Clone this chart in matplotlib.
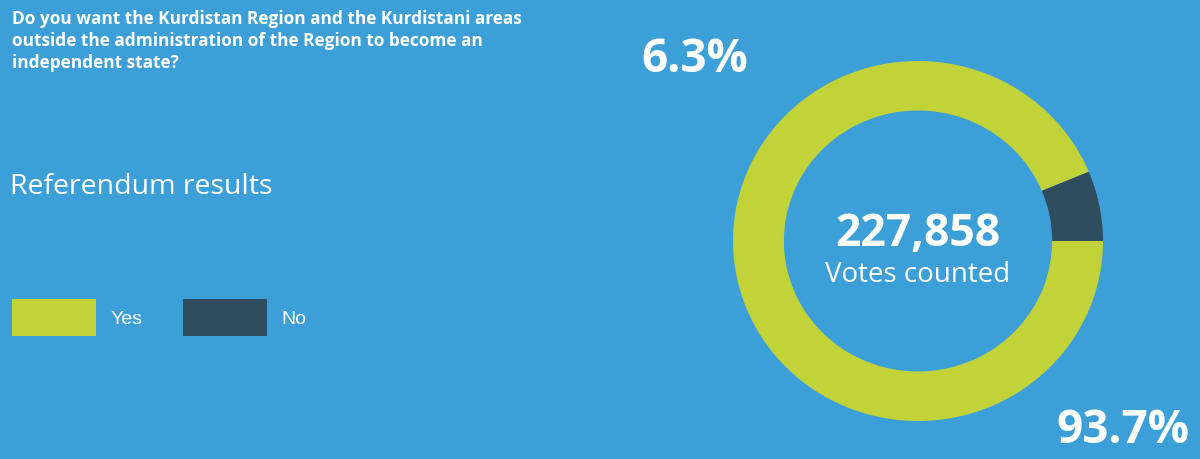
import matplotlib
matplotlib.use("Agg")
import matplotlib.pyplot as plt

# data
labels = ["No", "Yes"]
shares = [6.3, 93.7]
votes_counted = 227858
question = ("Do you want the Kurdistan Region and the Kurdistani areas\n"
            "outside the administration of the Region to become an\n"
            "independent state?")
heading = "Referendum results"

bg = "#3d9fd7"
colors = ["#304d5f", "#c2d33a"]

W, H = 1200, 460
fig = plt.figure(figsize=(W / 100, H / 100), dpi=100, facecolor=bg)
plt.rcParams['font.family'] = ['Open Sans', 'DejaVu Sans']

# donut (slightly wider than tall, like the source image)
cx, cy, rx, ry = 918, 242, 185, 180
ax = fig.add_axes([(cx - rx) / W, (H - cy - ry) / H, 2 * rx / W, 2 * ry / H])
ax.set_facecolor(bg)
wedges, _ = ax.pie(shares, colors=colors, startangle=0, counterclock=True,
                   radius=1, wedgeprops=dict(width=0.275, linewidth=0))
ax.set_xlim(-1, 1)
ax.set_ylim(-1, 1)
ax.set_aspect('auto')
ax.axis('off')

ax.text(0, -0.02, f"{votes_counted:,}", ha='center', va='baseline',
        color='white', fontsize=32, fontweight='bold')
ax.text(0, -0.225, "Votes counted", ha='center', va='baseline',
        color='white', fontsize=20)

# percentage labels
fig.text(641 / W, 1 - 72 / H, f"{shares[0]}%", ha='left', va='baseline',
         color='white', fontsize=33, fontweight='bold')
fig.text(1056 / W, 1 - 443 / H, f"{shares[1]}%", ha='left', va='baseline',
         color='white', fontsize=33, fontweight='bold')

# question and heading
fig.text(12 / W, 1 - 10 / H, question, ha='left', va='top', color='white',
         fontsize=12.4, fontweight='bold', linespacing=1.28)
fig.text(10 / W, 1 - 194 / H, heading, ha='left', va='baseline',
         color='white', fontsize=20.5)

# legend (Yes first, then No)
leg = fig.legend([wedges[1], wedges[0]], [labels[1], labels[0]],
                 loc='upper left', bbox_to_anchor=(12 / W, 1 - 300 / H),
                 ncol=2, frameon=False,
                 prop={'family': 'Liberation Sans', 'size': 14},
                 handlelength=4.3, handleheight=2.56, handletextpad=0.75,
                 columnspacing=2.1, borderpad=0, borderaxespad=0)
for t in leg.get_texts():
    t.set_color('white')

fig.savefig("out.png", dpi=100, facecolor=bg)
